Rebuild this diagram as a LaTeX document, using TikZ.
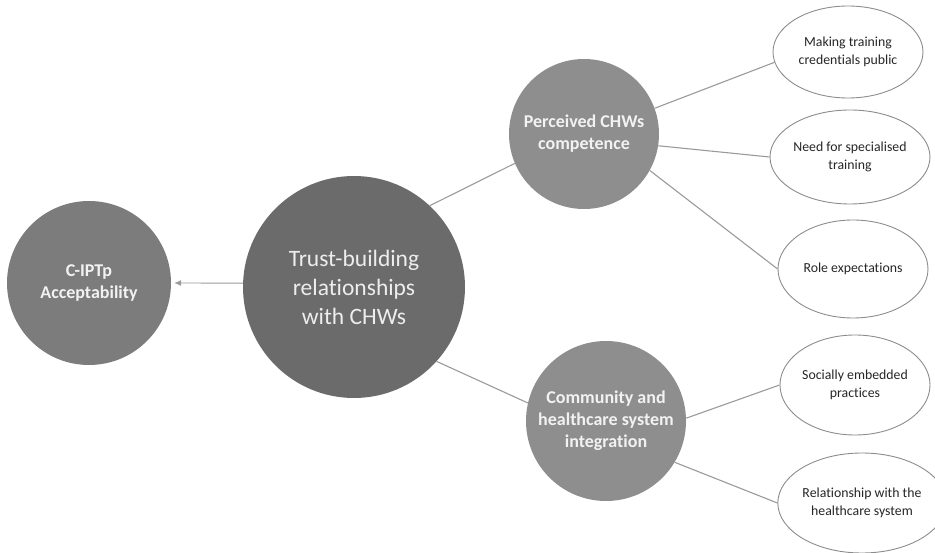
\documentclass[tikz,border=0pt]{standalone}
\usepackage{fontspec}
\setmainfont{Carlito}[Ligatures={NoCommon,NoContextual}]
\usetikzlibrary{shapes.geometric,arrows.meta}
\definecolor{hubgray}{HTML}{6B6B6B}
\definecolor{midgray}{HTML}{8E8E8E}
\definecolor{outgray}{HTML}{7C7C7C}
\definecolor{linkgray}{HTML}{9A9A9A}
\definecolor{leaftext}{HTML}{262626}

\begin{document}
\begin{tikzpicture}[x=1pt, y=-1pt,
    hub/.style={circle, fill=hubgray, text=white!93!black, inner sep=0pt, align=center, font=\fontsize{23.5}{29}\selectfont},
    theme/.style={circle, fill=midgray, text=white!95!black, inner sep=0pt, align=center, font=\fontsize{18}{22}\selectfont\bfseries},
    leaf/.style={ellipse, draw=black!45, line width=0.9pt, fill=white, inner sep=0pt, align=center, text=leaftext, font=\fontsize{13.8}{18}\selectfont},
    link/.style={draw=linkgray, line width=1.1pt}]
    \useasboundingbox (0,0) rectangle (935,553);

    % Central circle and outcome
    \node[hub, minimum size=222] (trust) at (354,287) {Trust-building\\relationships\\with CHWs};
    \node[theme, fill=outgray, minimum size=164] (accept) at (89,283) {C-IPTp\\Acceptability};
    \draw[link, line width=0.9pt, -{Latex[length=7pt,width=6pt]}, shorten >=3pt] (trust.178) -- (accept.east);

    % Themes
    \node[theme, minimum size=150] (perc) at (584,134) {Perceived CHWs\\competence};
    \node[theme, minimum size=160] (comm) at (606,421) {Community and\\healthcare system\\integration};
    \draw[link] (trust.47) -- (perc.203);
    \draw[link] (trust.-42) -- (comm.167);

    % Sub-themes
    \foreach \name/\pos/\ew/\eh/\txt in {
        mk/{848,52}/150/92/{Making training\\credentials public},
        spec/{850,157}/154/94/{Need for specialised\\training},
        role/{853,269}/150/98/{Role expectations},
        soc/{855,385}/150/100/{Socially embedded\\practices},
        rel/{862,503}/144/100/{Relationship with the\\healthcare system}} {
        \node[leaf, minimum width=\ew, minimum height=\eh] (\name) at (\pos) {\txt};
    }

    \foreach \a/\b in {perc.20/mk.188, perc.-9/spec.west, perc.-29/role.west, comm.2/soc.west, comm.-31/rel.west} {
        \draw[link] (\a) -- (\b);
    }
\end{tikzpicture}
\end{document}
